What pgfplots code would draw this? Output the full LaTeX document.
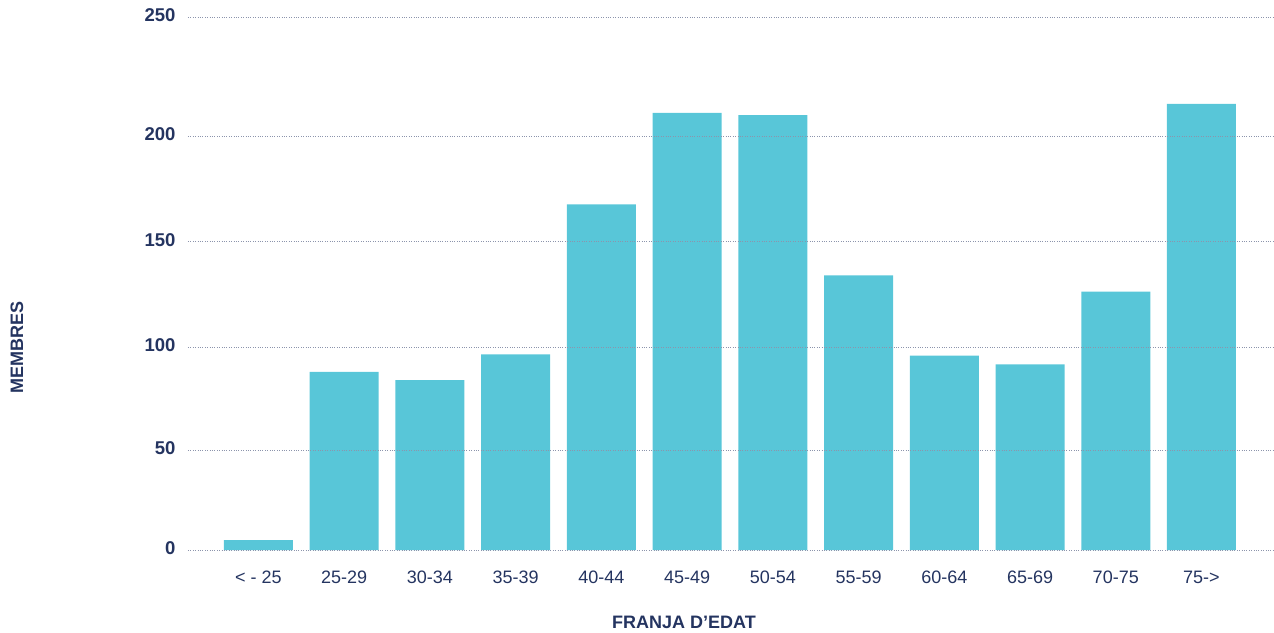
\documentclass[border=0pt]{standalone}
\usepackage{fontspec}
\setmainfont{Liberation Sans}
\usepackage{pgfplots}
\pgfplotsset{compat=1.18}
\definecolor{navy}{RGB}{36,52,96}
\definecolor{barc}{RGB}{88,198,216}
\definecolor{gridc}{RGB}{140,148,172}
\begin{document}
\begin{tikzpicture}
\path[use as bounding box] (-188pt,-82pt) rectangle (1086pt,550pt);
\begin{axis}[
  at={(0,0)}, anchor=south west,
  scale only axis, width=1086pt, height=532.7pt,
  xmin=-0.822, xmax=11.846,
  ymin=0, ymax=250,
  y coord trafo/.code={\pgfmathparse{ifthenelse(#1<=50, 2*#1, ifthenelse(#1<=100, 100+(#1-50)*2.054, ifthenelse(#1<=150, 202.7+(#1-100)*2.112, ifthenelse(#1<=200, 308.3+(#1-150)*2.114, 414+(#1-200)*2.374))))}},
  axis line style={draw=none},
  axis on top,
  major tick length=0pt,
  ymajorgrids,
  grid style={gridc, line width=0.8pt, dash pattern=on 0.8pt off 1.6pt},
  xtick={0,...,11},
  xticklabels={\textnormal{< - 25},\textnormal{25-29},\textnormal{30-34},\textnormal{35-39},\textnormal{40-44},\textnormal{45-49},\textnormal{50-54},\textnormal{55-59},\textnormal{60-64},\textnormal{65-69},\textnormal{70-75},\textnormal{75->}},
  ytick={0,50,100,150,200,250},
  yticklabels={\textbf{0},\textbf{50},\textbf{100},\textbf{150},\textbf{200},\textbf{250}},
  xticklabel style={font=\fontsize{18}{20}\selectfont, text=navy, anchor=base, yshift=-33pt},
  yticklabel style={font=\fontsize{18.5}{20}\selectfont, text=navy, xshift=-9pt, yshift=2pt},
  xlabel={\textbf{FRANJA D’EDAT}},
  xlabel style={at={(axis description cs:0.4567,0)}, anchor=base, yshift=-78pt, font=\fontsize{18}{20}\selectfont, text=navy},
]
\addplot[ybar, bar width=69pt, fill=barc, draw=none] coordinates {
(0,5) (1,88) (2,84) (3,96.6) (4,167.6) (5,209.7) (6,208.8) (7,134) (8,96) (9,91.7) (10,126.4) (11,213.5)
};
\end{axis}
\node[rotate=90, anchor=center, text=navy, font=\fontsize{18}{20}\selectfont] at (-171pt,202.5pt) {\textbf{MEMBRES}};
\end{tikzpicture}
\end{document}
